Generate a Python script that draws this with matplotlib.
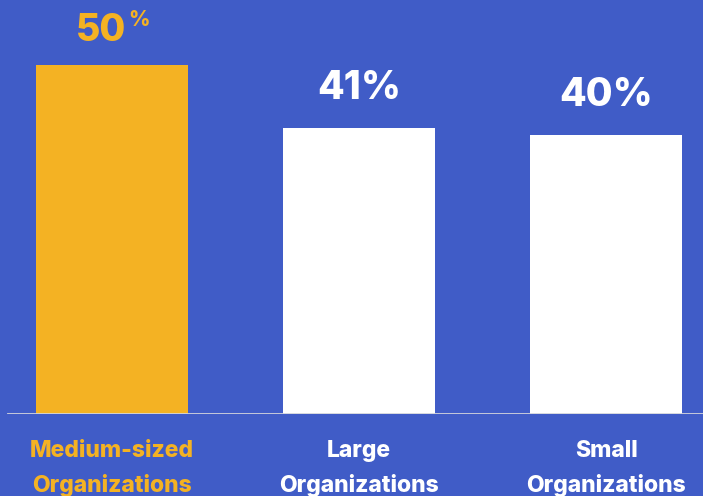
import matplotlib.pyplot as plt

# Share of organizations, by size
categories = ["Medium-sized\nOrganizations", "Large\nOrganizations", "Small\nOrganizations"]
values = [50, 41, 40]

BG = "#405CC7"
ORANGE = "#F4B223"
bar_colors = [ORANGE, "white", "white"]
label_colors = [ORANGE, "white", "white"]

plt.rcParams['font.family'] = ['Inter', 'DejaVu Sans']

fig = plt.figure(figsize=(7.03, 4.96), dpi=100, facecolor=BG)
ax = fig.add_axes([0, 82 / 496, 1, 414 / 496])
ax.set_facecolor(BG)

x = range(len(values))
ax.bar(x, values, width=0.615, color=bar_colors, zorder=2)
ax.set_xlim(-112 / 247, 591 / 247)
ax.set_ylim(0, 414 / 6.98)

# baseline
ax.axhline(0, xmin=8 / 703, xmax=1, color="#D2D4DC", lw=2, zorder=3)

# value labels; the highlighted one gets a small raised percent sign
for i, v in enumerate(values):
    if i == 0:
        ax.annotate(f"{v}", (i, v), xytext=(-8, 17), textcoords="offset points",
                    ha="center", va="baseline", fontsize=27, fontweight=800,
                    color=label_colors[i])
        ax.annotate("%", (i, v), xytext=(19.5, 28), textcoords="offset points",
                    ha="center", va="baseline", fontsize=15, fontweight=800,
                    color=label_colors[i])
    else:
        ax.annotate(f"{v}%", (i, v), xytext=(0, 21), textcoords="offset points",
                    ha="center", va="baseline", fontsize=28, fontweight=800,
                    color=label_colors[i])

# category labels under the baseline
for i, name in enumerate(categories):
    ax.annotate(name, (i, 0), xytext=(0, -19), textcoords="offset points",
                ha="center", va="top", fontsize=16.5, fontweight=800,
                color=label_colors[i], linespacing=1.62)

ax.axis("off")
fig.savefig("out.png", dpi=100, facecolor=BG)
